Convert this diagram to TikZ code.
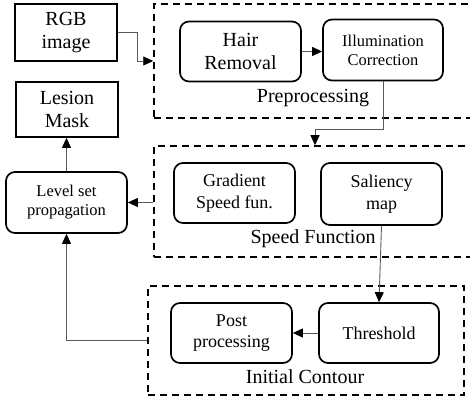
\documentclass[tikz,border=0pt]{standalone}
\usepackage{fontspec}
\setmainfont{Liberation Serif}
\usetikzlibrary{arrows.meta}
\begin{document}
\begin{tikzpicture}[x=1pt,y=-1pt,
 fL/.style={font=\fontsize{20}{23}\selectfont},
 fM/.style={font=\fontsize{18}{21.5}\selectfont},
 fS/.style={font=\fontsize{16.5}{19}\selectfont},
 box/.style={draw, line width=1.7pt, align=center, inner sep=0pt},
 rbox/.style={box, rounded corners=9pt},
 grp/.style={draw, line width=1.5pt, dash pattern=on 7pt off 5pt, inner sep=0pt},
 conn/.style={draw=black!65, line width=0.9pt, -{Triangle[length=10pt,width=9pt,color=black]}},
 lbl/.style={inner sep=0pt}]
\useasboundingbox (0,0) rectangle (470,403);
% group boxes
\node[grp, minimum width=322pt, minimum height=114pt] (pre) at (315,61) {};
\node[grp, minimum width=322pt, minimum height=111pt] (spd) at (315,201.5) {};
\node[grp, minimum width=316pt, minimum height=109pt] (init) at (306,340.5) {};
\node[lbl, fL] (prelbl) at (313,98) {Preprocessing};
\node[lbl, fL] (spdlbl) at (313,239) {Speed Function};
\node[lbl, fL] (initlbl) at (305,377) {Initial Contour};
% boxes
\node[box, fL, minimum width=102pt, minimum height=57pt] (rgb) at (66,32.5) {RGB\\image};
\node[box, fL, minimum width=102pt, minimum height=55pt] (lesion) at (67,109.5) {Lesion\\Mask};
\node[rbox, fS, minimum width=121pt, minimum height=61pt] (level) at (66.5,202.5) {Level set\\propagation};
\node[rbox, fL, minimum width=121pt, minimum height=60pt] (hair) at (240.5,51.5) {Hair\\Removal};
\node[rbox, fS, minimum width=120pt, minimum height=61pt] (illum) at (383,50) {Illumination\\Correction};
\node[rbox, fM, minimum width=121pt, minimum height=60pt] (grad) at (234.5,193) {Gradient\\Speed fun.};
\node[rbox, fM, minimum width=121pt, minimum height=62pt] (sal) at (381.5,194) {Saliency\\map};
\node[rbox, fM, minimum width=121pt, minimum height=60pt] (post) at (231.5,333) {Post\\processing};
\node[rbox, fM, minimum width=120pt, minimum height=60pt] (thr) at (379,333) {Threshold};
% connectors
\draw[conn] (rgb.east) -- ++(20,0) |- (pre.west);
\draw[conn] (hair.east) -- (hair.east -| illum.west);
\draw[conn] (illum.south) -- ++(0,48) -| (spd.north);
\draw[conn] (level.east -| spd.west) -- (level.east);
\draw[conn] (sal.south) -- (thr.north);
\draw[conn] (thr.west) -- (post.east);
\draw[conn] (init.west) -| (level.south);
\draw[conn] (level.north) -- (level.north |- lesion.south);
\end{tikzpicture}
\end{document}
